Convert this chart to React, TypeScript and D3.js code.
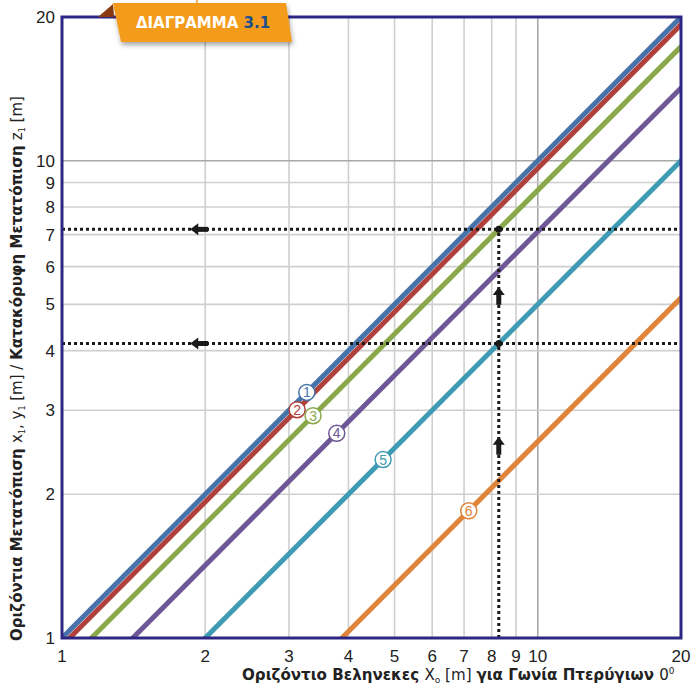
import React from "react";
import * as d3 from "d3";

const xTicks = [1, 2, 3, 4, 5, 6, 7, 8, 9, 10, 20];
const yTicks = [1, 2, 3, 4, 5, 6, 7, 8, 9, 10, 20];
const gridValues = [2, 3, 4, 5, 6, 7, 8, 9, 10];
const seriesIds = [1, 2, 3, 4, 5, 6];
const seriesRatio = [1.0, 0.964, 0.867, 0.71, 0.5, 0.258];
const seriesColors = ["#4673aa", "#b0403c", "#88a84a", "#6e5796", "#3f9ab3", "#e0843a"];
const labelX = [3.27, 3.12, 3.37, 3.78, 4.73, 7.16];
const guideX = 8.28;
const guideY = [7.18, 4.14];
const leftArrowX = 1.86;
const upArrowY = [5.44, 2.64];

const W = 692;
const H = 684;
const L = 62, R = 681, T = 17, B = 638;

export default function App() {
  const x = d3.scaleLog().domain([1, 20]).range([L, R]);
  const y = d3.scaleLog().domain([1, 20]).range([B, T]);
  const line = d3.line<[number, number]>().x((d) => x(d[0])).y((d) => y(d[1]));
  const font = "'Liberation Sans', Arial, sans-serif";
  const wide = "'DejaVu Sans', Verdana, sans-serif";

  return (
    <svg width={W} height={H} style={{ position: "absolute", left: 0, top: 0 }} fontFamily={font}>
      <defs>
        <clipPath id="plot">
          <rect x={L} y={T} width={R - L} height={B - T} />
        </clipPath>
        <filter id="shadow" x="-20%" y="-20%" width="140%" height="160%">
          <feDropShadow dx="1" dy="3" stdDeviation="2.5" floodColor="#000" floodOpacity="0.35" />
        </filter>
      </defs>
      <rect width={W} height={H} fill="#fff" />
      {/* grid */}
      {gridValues.map((v) => (
        <line key={"gx" + v} x1={x(v)} x2={x(v)} y1={T} y2={B}
          stroke={v === 10 ? "#a8a8a8" : "#cfcfcf"} strokeWidth={1.6} />
      ))}
      {gridValues.map((v) => (
        <line key={"gy" + v} y1={y(v)} y2={y(v)} x1={L} x2={R}
          stroke={v === 10 ? "#a8a8a8" : "#cfcfcf"} strokeWidth={1.6} />
      ))}
      {/* series */}
      <g clipPath="url(#plot)">
        {seriesRatio.map((k, i) => (
          <path key={"s" + i}
            d={line([[0.9, 0.9 * k], [22, 22 * k]] as [number, number][]) || ""}
            stroke={seriesColors[i]} strokeWidth={5} fill="none" />
        ))}
      </g>
      {/* guides */}
      {guideY.map((v, i) => (
        <line key={"gh" + i} x1={L} x2={R} y1={y(v)} y2={y(v)} stroke="#1a1a1a" strokeWidth={3} strokeDasharray="3 3" />
      ))}
      <line x1={x(guideX)} x2={x(guideX)} y1={B} y2={y(guideY[0])} stroke="#1a1a1a" strokeWidth={3} strokeDasharray="3 3" />
      {guideY.map((v, i) => (
        <circle key={"gd" + i} cx={x(guideX)} cy={y(v)} r={3.5} fill="#1a1a1a" />
      ))}
      {/* left arrows */}
      {guideY.map((v, i) => {
        const tx = x(leftArrowX), ty = y(v);
        return (
          <g key={"la" + i} fill="#1a1a1a">
            <polygon points={`${tx},${ty} ${tx + 8},${ty - 6} ${tx + 8},${ty + 6}`} />
            <rect x={tx + 7} y={ty - 2.5} width={11} height={5} />
          </g>
        );
      })}
      {upArrowY.map((v, i) => {
        const tx = x(guideX), ty = y(v);
        return (
          <g key={"ua" + i} fill="#1a1a1a">
            <polygon points={`${tx},${ty} ${tx - 6},${ty + 8} ${tx + 6},${ty + 8}`} />
            <rect x={tx - 2.5} y={ty + 7} width={5} height={11} />
          </g>
        );
      })}
      {/* labels */}
      {seriesRatio.map((k, i) => (
        <g key={"lb" + i} transform={`translate(${x(labelX[i])},${y(labelX[i] * k)})`}>
          <circle r={8} fill="#fff" stroke={seriesColors[i]} strokeWidth={1.5} />
          <text textAnchor="middle" dy="5" fontSize={14} fill={seriesColors[i]}>{seriesIds[i]}</text>
        </g>
      ))}
      {/* border */}
      <rect x={L} y={T} width={R - L} height={B - T} fill="none" stroke="#2e2683" strokeWidth={3} />
      {/* ticks */}
      {xTicks.map((v) => (
        <text key={"xt" + v} x={x(v)} y={B + 24} textAnchor="middle" fontSize={17} fill="#222">{v}</text>
      ))}
      {yTicks.map((v) => (
        <text key={"yt" + v} x={L - 7} y={y(v) + 6} textAnchor="end" fontSize={17} fill="#222">{v}</text>
      ))}
      {/* x label */}
      <text x={242} y={680} fontSize={15.1} fontWeight="bold" fill="#222" fontFamily={wide}>
        Οριζόντιο Βεληνεκες <tspan fontWeight="normal">X</tspan><tspan fontSize={9} fontWeight="normal" dy="3">ο</tspan>
        <tspan dy="-3" fontWeight="normal"> [m] </tspan>
        <tspan>για Γωνία Πτερύγιων </tspan>
        <tspan fontWeight="normal">0</tspan>
        <tspan fontSize={9} fontWeight="normal" dy="-6">0</tspan>
      </text>
      {/* y label */}
      <text transform="translate(22,641) rotate(-90)" fontSize={15} fontWeight="bold" fill="#222" fontFamily={wide}>
        Οριζόντια Μετατόπιση <tspan fontWeight="normal">x</tspan><tspan fontSize={8} fontWeight="normal" dy="3">1</tspan>
        <tspan dy="-3" fontWeight="normal">, y</tspan>
        <tspan fontSize={8} fontWeight="normal" dy="3">1</tspan>
        <tspan dy="-3" fontWeight="normal"> [m]   /   </tspan>
        <tspan>Κατακόρυφη Μετατόπιση </tspan>
        <tspan fontWeight="normal">z</tspan>
        <tspan fontSize={8} fontWeight="normal" dy="3">1</tspan>
        <tspan dy="-3" fontWeight="normal"> [m]</tspan>
      </text>
      {/* badge */}
      <line x1={197} x2={197} y1={0} y2={4} stroke="#f39c1f" strokeWidth={1.5} />
      <polygon points="98,17 113,4 114,17" fill="#8a3a10" />
      <polygon points="113,3 286,3 292,42 121,42" fill="#f49b1f" filter="url(#shadow)" />
      <text x={203} y={28} textAnchor="middle" fontSize={15} fontWeight="bold" fill="#fff" fontFamily={wide}>
        ΔΙΑΓΡΑΜΜΑ <tspan fill="#1c4f8c">3.1</tspan>
      </text>
    </svg>
  );
}
